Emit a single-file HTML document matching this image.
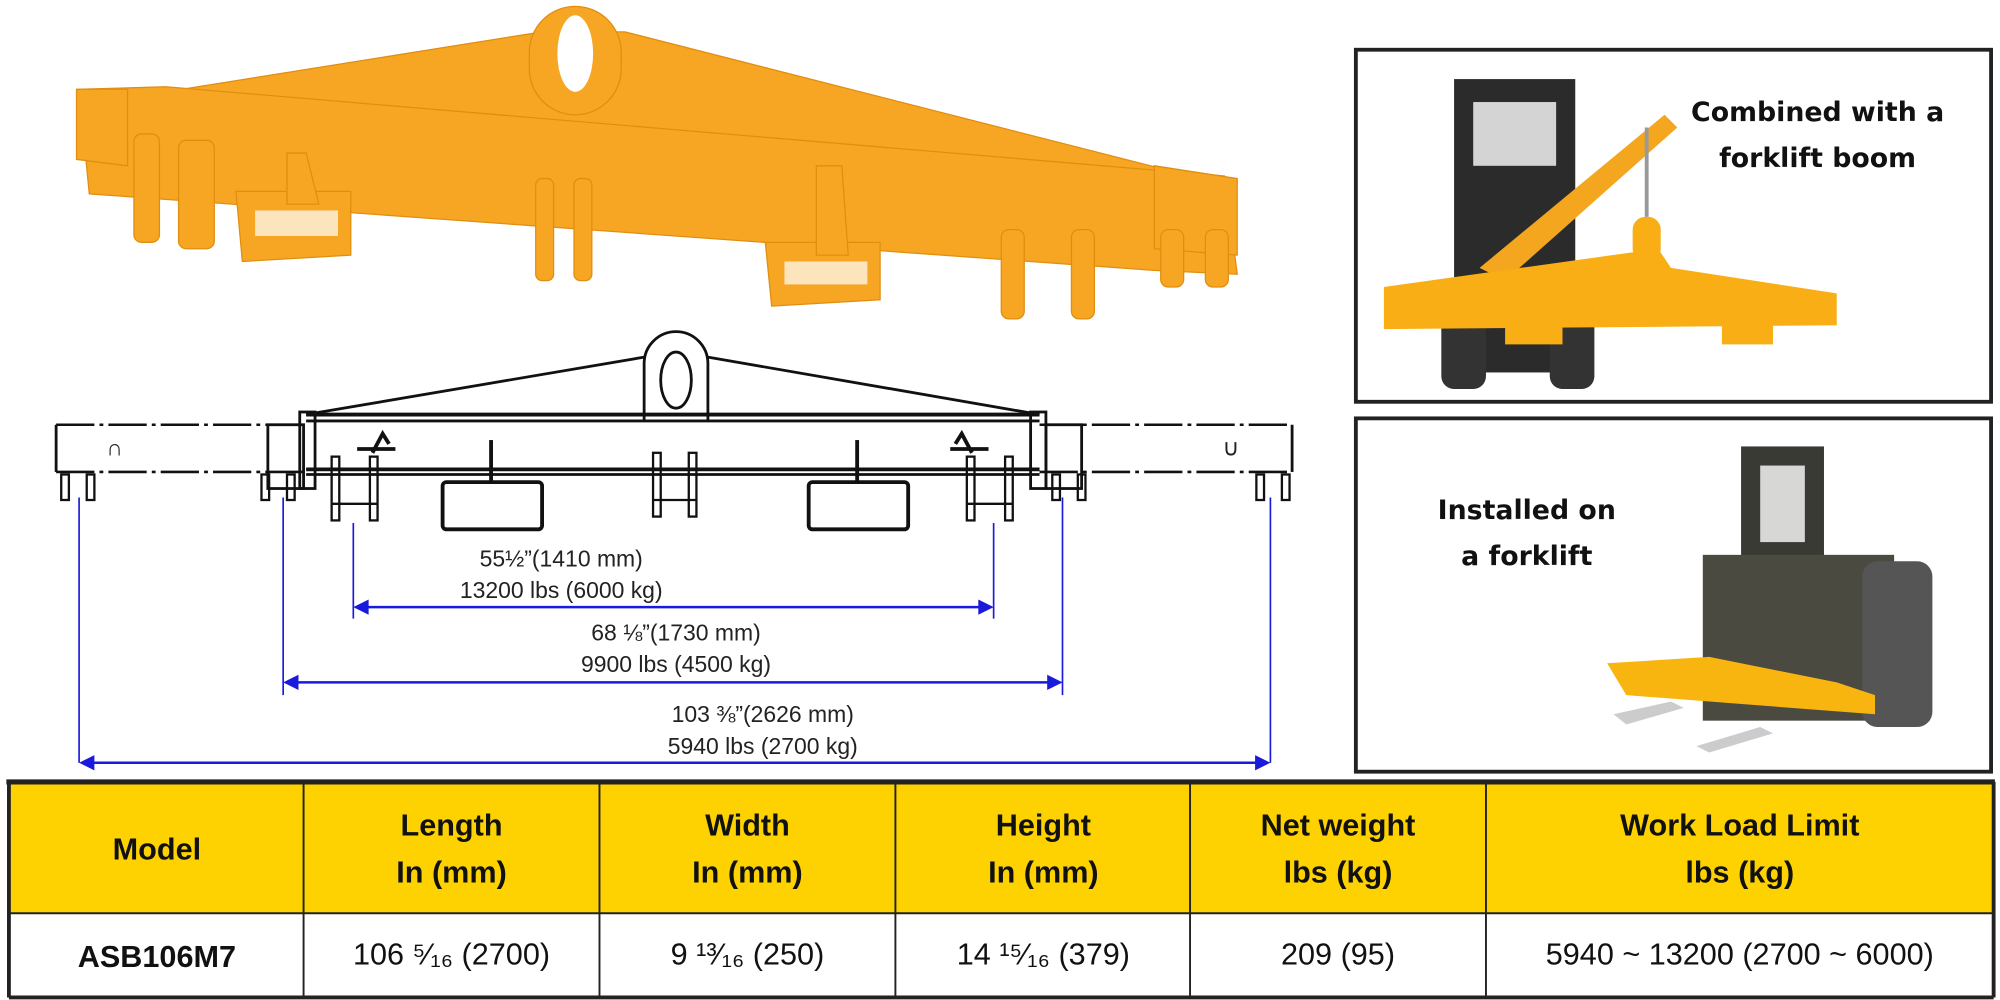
<!DOCTYPE html>
<html><head><meta charset="utf-8"><style>
html,body{margin:0;padding:0;background:#fff;}
svg{display:block;}
.t{font-family:"Liberation Sans",Arial,sans-serif;font-weight:bold;fill:#111;text-anchor:middle;}
.d{font-family:"Liberation Sans",Arial,sans-serif;fill:#222;text-anchor:middle;font-size:18px;}
.c{font-family:"DejaVu Sans","Liberation Sans",sans-serif;font-weight:bold;fill:#111;text-anchor:middle;font-size:21px;}
</style></head><body>
<svg width="2000" height="1000" viewBox="0 0 1568 784" preserveAspectRatio="none" xmlns="http://www.w3.org/2000/svg">
<!-- top photo beam -->
<g fill="#F6A623" stroke="#E08E10" stroke-width="1">
<polygon points="130,72 425,25 490,25 910,132 960,150 960,170 120,110"/>
<rect x="415" y="5" width="72" height="85" rx="36"/>
<polygon points="62,70 130,68 960,138 970,215 905,212 70,152"/>
<polygon points="60,70 100,70 100,130 60,125"/>
<polygon points="905,130 970,140 970,200 905,195"/>
<rect x="105" y="105" width="20" height="85" rx="6"/>
<rect x="140" y="110" width="28" height="85" rx="6"/>
<polygon points="185,150 275,150 275,200 190,205"/>
<polygon points="225,120 240,120 250,160 225,160"/>
<rect x="420" y="140" width="14" height="80" rx="5"/>
<rect x="450" y="140" width="14" height="80" rx="5"/>
<polygon points="600,190 690,190 690,235 605,240"/>
<polygon points="640,130 660,130 665,200 640,200"/>
<rect x="785" y="180" width="18" height="70" rx="6"/>
<rect x="840" y="180" width="18" height="70" rx="6"/>
<rect x="910" y="180" width="18" height="45" rx="6"/>
<rect x="945" y="180" width="18" height="45" rx="6"/>
</g>
<ellipse cx="451" cy="42" rx="14" ry="30" fill="#fff"/>
<rect x="200" y="165" width="65" height="20" fill="#fff" opacity="0.7"/>
<rect x="615" y="205" width="65" height="18" fill="#fff" opacity="0.7"/>
<!-- technical drawing -->
<g fill="none" stroke="#111" stroke-width="2.2">
<path d="M505,330 L505,285 A25,25 0 0 1 555,285 L555,330"/>
<ellipse cx="530" cy="298" rx="12" ry="22"/>
<line x1="240" y1="325" x2="505" y2="280"/>
<line x1="555" y1="280" x2="815" y2="325"/>
<line x1="240" y1="325" x2="815" y2="325" stroke-width="3"/>
<line x1="240" y1="330" x2="815" y2="330"/>
<line x1="240" y1="368" x2="815" y2="368" stroke-width="3"/>
<line x1="240" y1="372" x2="815" y2="372"/>
<g stroke-dasharray="30,4,3,4" stroke-width="2">
<line x1="44" y1="333" x2="240" y2="333"/><line x1="44" y1="370" x2="240" y2="370"/>
<line x1="815" y1="333" x2="1013" y2="333"/><line x1="815" y1="370" x2="1013" y2="370"/>
</g>
<line x1="44" y1="333" x2="44" y2="370"/><line x1="1013" y1="333" x2="1013" y2="370"/>
<rect x="210" y="333" width="28" height="50"/><rect x="820" y="333" width="28" height="50"/>
<rect x="235" y="323" width="12" height="60"/><rect x="808" y="323" width="12" height="60"/>
<rect x="347" y="378" width="78" height="37" rx="3" stroke-width="3"/>
<rect x="634" y="378" width="78" height="37" rx="3" stroke-width="3"/>
<line x1="385" y1="345" x2="385" y2="378" stroke-width="3"/><line x1="672" y1="345" x2="672" y2="378" stroke-width="3"/>
<g stroke-width="1.8">
<rect x="260" y="358" width="6" height="50"/><rect x="290" y="358" width="6" height="50"/><line x1="260" y1="395" x2="296" y2="395"/>
<rect x="758" y="358" width="6" height="50"/><rect x="788" y="358" width="6" height="50"/><line x1="758" y1="395" x2="794" y2="395"/>
<rect x="512" y="355" width="6" height="50"/><rect x="540" y="355" width="6" height="50"/><line x1="512" y1="392" x2="546" y2="392"/>
<rect x="48" y="372" width="6" height="20"/><rect x="68" y="372" width="6" height="20"/>
<rect x="985" y="372" width="6" height="20"/><rect x="1005" y="372" width="6" height="20"/>
<rect x="205" y="372" width="6" height="20"/><rect x="225" y="372" width="6" height="20"/>
<rect x="825" y="372" width="6" height="20"/><rect x="845" y="372" width="6" height="20"/>
</g>
<path d="M292,355 l8,-15 l5,8 M280,352 l30,0" stroke-width="3"/>
<path d="M762,355 l-8,-15 l-5,8 M745,352 l30,0" stroke-width="3"/>
</g>
<text x="90" y="357" class="d" font-size="12">∩</text><text x="965" y="357" class="d" font-size="12">∪</text>
<!-- dimensions -->
<g stroke="#1a1adc" stroke-width="1.3" fill="none">
<line x1="62" y1="390" x2="62" y2="598"/><line x1="996" y1="390" x2="996" y2="598"/>
<line x1="222" y1="390" x2="222" y2="545"/><line x1="833" y1="390" x2="833" y2="545"/>
<line x1="277" y1="410" x2="277" y2="485"/><line x1="779" y1="410" x2="779" y2="485"/>
<line x1="64" y1="598" x2="994" y2="598" stroke-width="2"/>
<line x1="224" y1="535" x2="831" y2="535" stroke-width="2"/>
<line x1="279" y1="476" x2="777" y2="476" stroke-width="2"/>
</g>
<g fill="#1a1adc">
<polygon points="62,598 74,592 74,604"/><polygon points="996,598 984,592 984,604"/>
<polygon points="222,535 234,529 234,541"/><polygon points="833,535 821,529 821,541"/>
<polygon points="277,476 289,470 289,482"/><polygon points="779,476 767,470 767,482"/>
</g>
<text x="440" y="444" class="d">55½”(1410 mm)</text>
<text x="440" y="469" class="d">13200 lbs (6000 kg)</text>
<text x="530" y="502" class="d">68 ⅛”(1730 mm)</text>
<text x="530" y="527" class="d">9900 lbs (4500 kg)</text>
<text x="598" y="566" class="d">103 ⅜”(2626 mm)</text>
<text x="598" y="591" class="d">5940 lbs (2700 kg)</text>
<!-- right boxes -->
<rect x="1063" y="39" width="498" height="276" fill="#fff" stroke="#222" stroke-width="3"/>
<rect x="1063" y="328" width="498" height="277" fill="#fff" stroke="#222" stroke-width="3"/>
<text x="1425" y="95" class="c">Combined with a</text>
<text x="1425" y="131" class="c">forklift boom</text>
<text x="1197" y="407" class="c">Installed on</text>
<text x="1197" y="443" class="c">a forklift</text>
<!-- forklift 1 -->
<g>
<rect x="1140" y="62" width="95" height="230" fill="#2b2b2b"/>
<rect x="1155" y="80" width="65" height="50" fill="#fff" opacity="0.8"/>
<rect x="1130" y="245" width="35" height="60" rx="10" fill="#333"/>
<rect x="1215" y="245" width="35" height="60" rx="10" fill="#333"/>
<polygon points="1160,210 1305,90 1315,100 1180,220" fill="#F3A61E"/>
<polygon points="1085,225 1300,195 1310,210 1440,230 1440,255 1085,258" fill="#F8AE14"/>
<rect x="1280" y="170" width="22" height="35" rx="10" fill="#F8AE14"/>
<line x1="1291" y1="100" x2="1291" y2="170" stroke="#999" stroke-width="3"/>
<rect x="1180" y="255" width="45" height="15" fill="#F8AE14"/>
<rect x="1350" y="255" width="40" height="15" fill="#F8AE14"/>
</g>
<!-- forklift 2 -->
<g>
<rect x="1365" y="350" width="65" height="200" fill="#3a3a35"/>
<rect x="1380" y="365" width="35" height="60" fill="#fff" opacity="0.8"/>
<rect x="1335" y="435" width="150" height="130" fill="#4a4a40"/>
<rect x="1460" y="440" width="55" height="130" rx="12" fill="#555"/>
<polygon points="1260,520 1340,515 1440,535 1470,545 1470,560 1275,545" fill="#F8B40F"/>
<polygon points="1265,560 1310,550 1320,555 1275,568" fill="#ccc"/>
<polygon points="1330,585 1380,570 1390,575 1340,590" fill="#ccc"/>
</g>
<!-- table -->
<rect x="7" y="613" width="1556" height="103" fill="#FDD200"/>
<rect x="7" y="716" width="1556" height="66" fill="#fff"/>
<g stroke="#222" stroke-width="1.5">
<line x1="5" y1="613" x2="1564" y2="613" stroke-width="4"/>
<line x1="7" y1="716" x2="1563" y2="716"/>
<line x1="7" y1="782" x2="1563" y2="782" stroke-width="3"/>
<line x1="7" y1="613" x2="7" y2="782" stroke-width="3"/>
<line x1="1563" y1="613" x2="1563" y2="782" stroke-width="3"/>
<line x1="238" y1="613" x2="238" y2="782"/><line x1="470" y1="613" x2="470" y2="782"/>
<line x1="702" y1="613" x2="702" y2="782"/><line x1="933" y1="613" x2="933" y2="782"/>
<line x1="1165" y1="613" x2="1165" y2="782"/>
</g>
<g class="t" font-size="24">
<text x="123" y="674">Model</text>
<text x="354" y="655">Length</text><text x="354" y="692">In (mm)</text>
<text x="586" y="655">Width</text><text x="586" y="692">In (mm)</text>
<text x="818" y="655">Height</text><text x="818" y="692">In (mm)</text>
<text x="1049" y="655">Net weight</text><text x="1049" y="692">lbs (kg)</text>
<text x="1364" y="655">Work Load Limit</text><text x="1364" y="692">lbs (kg)</text>
<text x="123" y="758">ASB106M7</text>
</g>
<g class="t" font-size="24" style="font-weight:normal">
<text x="354" y="756">106 ⁵⁄₁₆ (2700)</text>
<text x="586" y="756">9  ¹³⁄₁₆ (250)</text>
<text x="818" y="756">14 ¹⁵⁄₁₆ (379)</text>
<text x="1049" y="756">209 (95)</text>
<text x="1364" y="756">5940 ~ 13200 (2700 ~ 6000)</text>
</g>
</svg>
</body></html>
